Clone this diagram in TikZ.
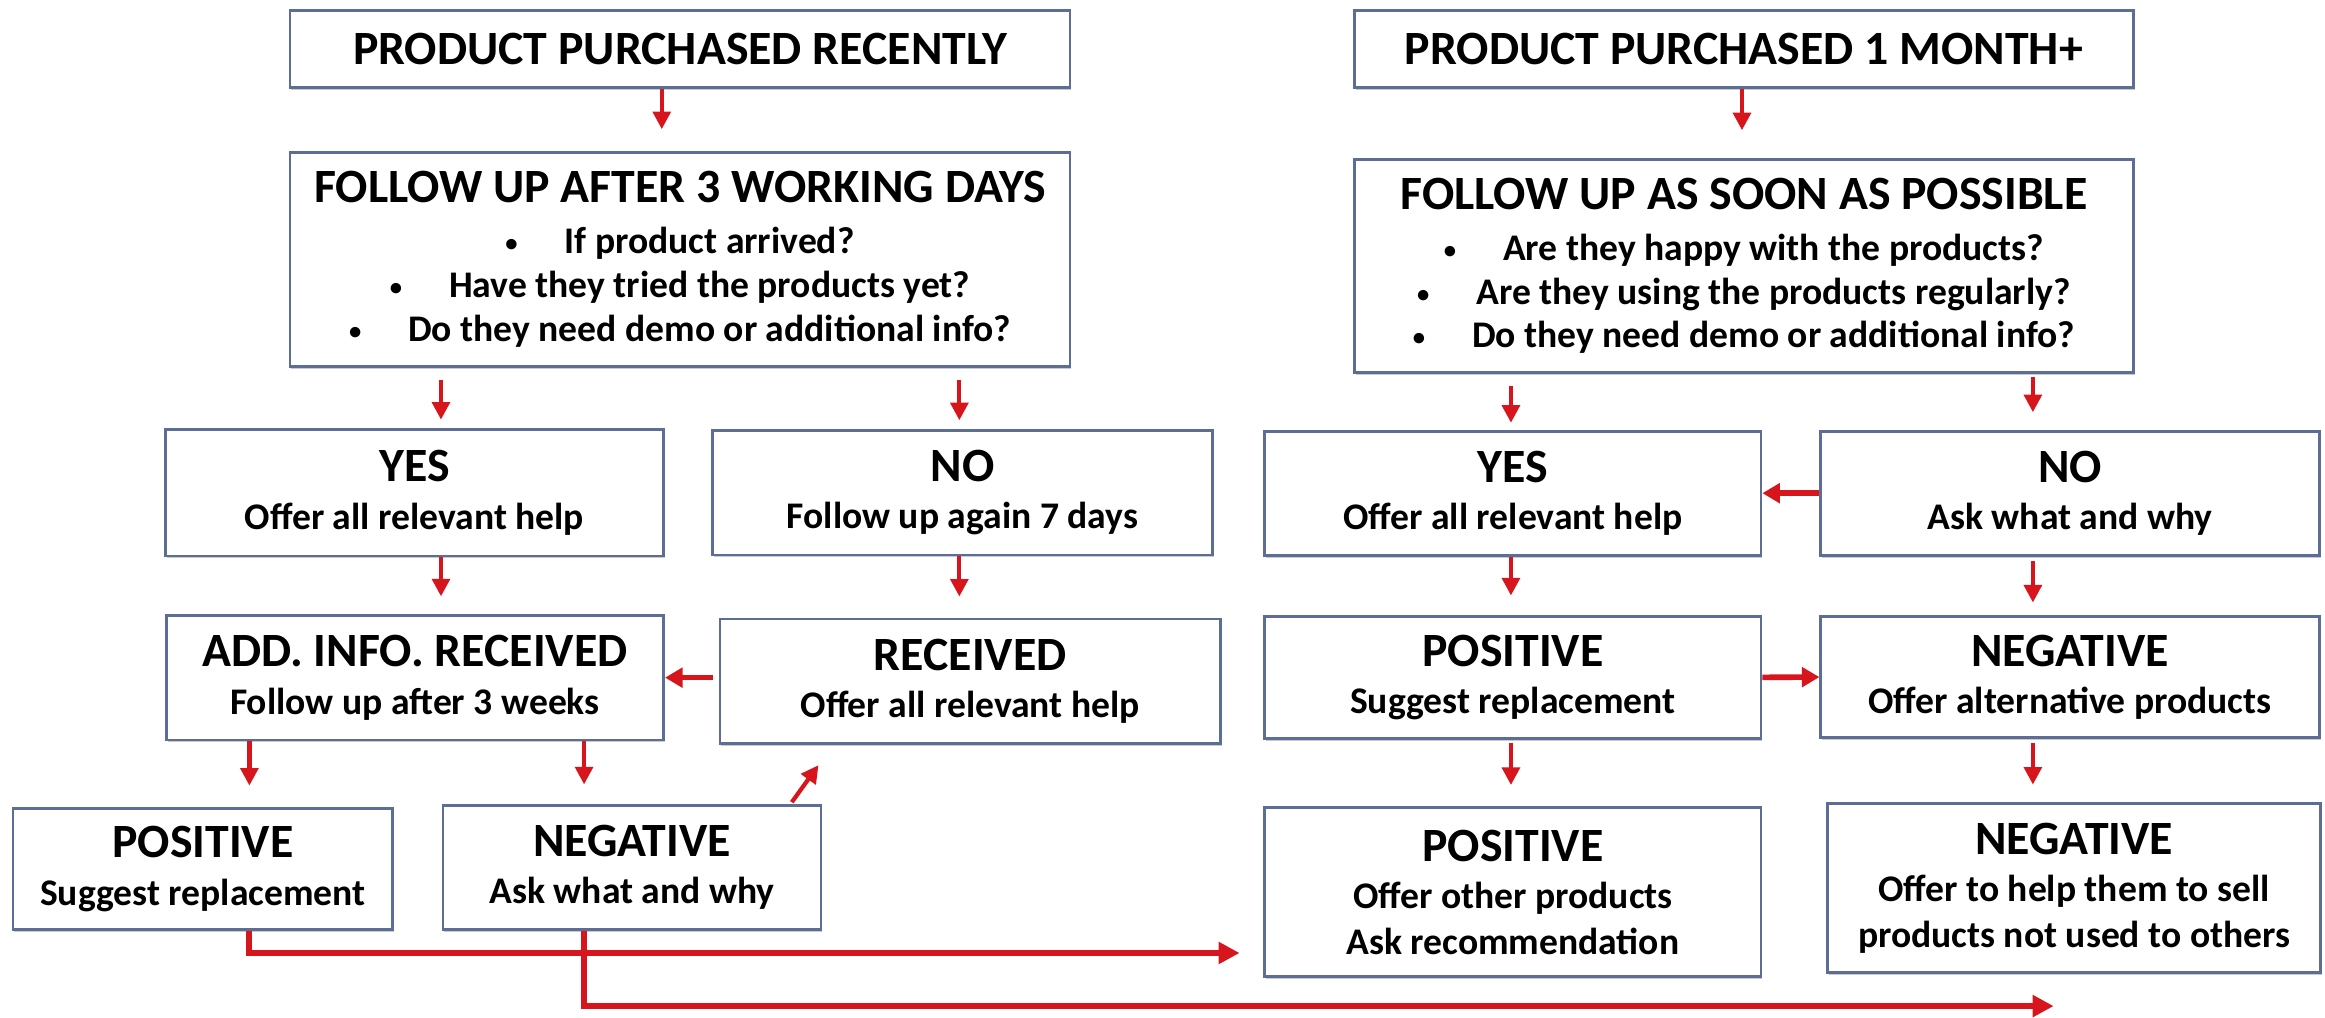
\documentclass[tikz,border=0pt]{standalone}
\usepackage{fontspec}
\setmainfont{Carlito}
\usetikzlibrary{arrows.meta,shadows}
\definecolor{boxline}{RGB}{92,110,150}
\definecolor{arrred}{RGB}{214,22,28}
\newcommand{\mytitle}[1]{{\fontsize{13.6}{15}\selectfont #1}}
\newcommand{\mysub}[1]{{\fontsize{10.7}{13}\selectfont #1}}
\newcommand{\mybul}[1]{{\fontsize{10.7}{13}\selectfont\raisebox{0.6pt}{\fontsize{7}{7}\selectfont\textbullet}\hspace{1.25em}#1}}
\begin{document}
\begin{tikzpicture}[x=0.014828cm, y=-0.014828cm,
  box/.style={draw=boxline, line width=0.8pt, fill=white, inner sep=0pt, align=center, font=\bfseries,
    drop shadow={shadow xshift=0.4pt, shadow yshift=-0.7pt, fill=black!35, opacity=0.6}},
  sz/.style 2 args={minimum width=#1*0.014828cm, minimum height=#2*0.014828cm},
  arr/.style={draw=arrred, line width=1.2pt, -{Triangle[length=5pt,width=5pt]}},
  harr/.style={draw=arrred, line width=1.6pt, -{Triangle[length=5pt,width=5.5pt]}},
  gap/.style 2 args={shorten <=#1, shorten >=#2},
  arrthick/.style={draw=arrred, line width=1.7pt, -{Triangle[length=6pt,width=6pt]}}]
\useasboundingbox (0,0) rectangle (1568,686);
% left column
\node[box, sz={526}{52}] (L1) at (458.6,32.9) {\mytitle{PRODUCT PURCHASED RECENTLY}};
\node[box, sz={526}{144}] (L2) at (458.6,175) {\mytitle{FOLLOW UP AFTER 3 WORKING DAYS}\\[2.5pt]
  \mybul{If product arrived?}\\[0.6pt] \mybul{Have they tried the products yet?}\\[0.6pt] \mybul{Do they need demo or additional info?}};
\node[box, sz={336}{85}] (LY) at (279.5,332.4) {\mytitle{YES}\\[1.5pt]\mysub{Offer all relevant help}};
\node[box, sz={337}{84}] (LN) at (649.1,332.3) {\mytitle{NO}\\[1.5pt]\mysub{Follow up again 7 days}};
\node[box, sz={335.5}{84}] (LA) at (279.8,457) {\mytitle{ADD. INFO. RECEIVED}\\[1.5pt]\mysub{Follow up after 3 weeks}};
\node[box, sz={337.4}{84}] (LR) at (654.3,459.5) {\mytitle{RECEIVED}\\[1.5pt]\mysub{Offer all relevant help}};
\node[box, sz={256}{82}] (LP) at (136.8,586) {\mytitle{POSITIVE}\\[1.5pt]\mysub{Suggest replacement}};
\node[box, sz={255}{84}] (LG) at (426.2,585) {\mytitle{NEGATIVE}\\[1.5pt]\mysub{Ask what and why}};
% right column
\node[box, sz={525.4}{52.3}] (R1) at (1176.1,33) {\mytitle{PRODUCT PURCHASED 1 MONTH+}};
\node[box, sz={525.4}{143.5}] (R2) at (1176.1,179.5) {\mytitle{FOLLOW UP AS SOON AS POSSIBLE}\\[2.5pt]
  \mybul{Are they happy with the products?}\\[0.4pt] \mybul{Are they using the products regularly?}\\[0.4pt] \mybul{Do they need demo or additional info?}};
\node[box, sz={334.6}{83.6}] (RY) at (1020.3,332.6) {\mytitle{YES}\\[1.5pt]\mysub{Offer all relevant help}};
\node[box, sz={336}{83.6}] (RN) at (1396,332.6) {\mytitle{NO}\\[1.5pt]\mysub{Ask what and why}};
\node[box, sz={334.6}{82.4}] (RP) at (1020.3,456.8) {\mytitle{POSITIVE}\\[1.5pt]\mysub{Suggest replacement}};
\node[box, sz={336}{82}] (RG) at (1396,456.6) {\mytitle{NEGATIVE}\\[1.5pt]\mysub{Offer alternative products}};
\node[box, sz={334.6}{114.2}] (RBP) at (1020.3,601.7) {\mytitle{POSITIVE}\\[1.5pt]\mysub{Offer other products}\\[1pt]\mysub{Ask recommendation}};
\node[box, sz={332.4}{114.1}] (RBG) at (1398.8,599) {\mytitle{NEGATIVE}\\[1.5pt]\mysub{Offer to help them to sell}\\[1pt]\mysub{products not used to others}};
% column coordinates
\coordinate (cL1) at (446.3,0);
\coordinate (cLa) at (297.4,0);
\coordinate (cLb) at (647,0);
\coordinate (cLc) at (168.2,0);
\coordinate (cLd) at (393.9,0);
\coordinate (cR1) at (1174.8,0);
\coordinate (cRa) at (1019,0);
\coordinate (cRb) at (1371,0);
\coordinate (dgs) at (534,541);
\coordinate (dge) at (552,516);
\coordinate (e1) at (836,642.7);
\coordinate (e2) at (1385,678.5);
% left arrows
\draw[arr, gap={0pt}{6.3pt}] (L1.south -| cL1) -- (L2.north -| cL1);
\draw[arr, gap={3.4pt}{2.5pt}] (L2.south -| cLa) -- (LY.north -| cLa);
\draw[arr, gap={3.4pt}{2.5pt}] (L2.south -| cLb) -- (LN.north -| cLb);
\draw[arr, gap={0pt}{5pt}] (LY.south -| cLa) -- (LA.north -| cLa);
\draw[arr, gap={0pt}{6pt}] (LN.south -| cLb) -- (LR.north -| cLb);
\draw[harr, gap={1.5pt}{0pt}] (LR.west |- LA.east) -- (LA.east);
\draw[arr, gap={0pt}{6pt}] (LA.south -| cLc) -- (LP.north -| cLc);
\draw[arr, gap={0pt}{5.5pt}] (LA.south -| cLd) -- (LG.north -| cLd);
\draw[arr] (dgs) -- (dge);
\draw[arrthick] (LP.south -| cLc) |- (e1);
\draw[arrthick] (LG.south -| cLd) |- (e2);
% right arrows
\draw[arr, gap={0pt}{8pt}] (R1.south -| cR1) -- (R2.north -| cR1);
\draw[arr, gap={3.5pt}{2pt}] (R2.south -| cRa) -- (RY.north -| cRa);
\draw[arr, gap={0.8pt}{5pt}] (R2.south -| cRb) -- (RN.north -| cRb);
\draw[harr] (RN.west) -- (RY.east);
\draw[arr, gap={0pt}{5.5pt}] (RY.south -| cRa) -- (RP.north -| cRa);
\draw[arr, gap={1.3pt}{3.5pt}] (RN.south -| cRb) -- (RG.north -| cRb);
\draw[harr] (RP.east) -- (RG.west);
\draw[arr, gap={1pt}{6pt}] (RP.south -| cRa) -- (RBP.north -| cRa);
\draw[arr, gap={1pt}{5pt}] (RG.south -| cRb) -- (RBG.north -| cRb);
\end{tikzpicture}
\end{document}
